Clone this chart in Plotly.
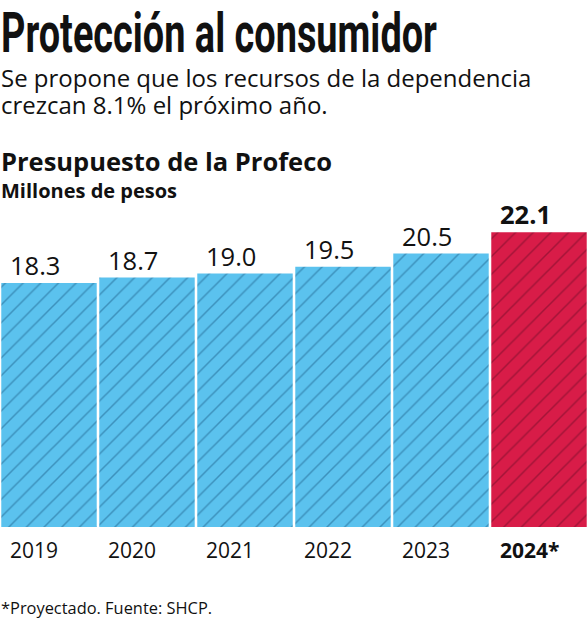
import plotly.graph_objects as go

years = ["2019", "2020", "2021", "2022", "2023", "2024*"]
values = [18.3, 18.7, 19.0, 19.5, 20.5, 22.1]
projected = [False, False, False, False, False, True]

BLUE = "#5bc2ee"
BLUE_LINE = "#1d6089"
RED = "#d81c48"
RED_LINE = "#6e0c27"

W, H = 588, 620
TOP, BOTTOM = 200, 527  # plot area pixel rows


def py(pix):
    return (BOTTOM - pix) / (BOTTOM - TOP)


fig = go.Figure()
for is_proj, col, line_col in [(False, BLUE, BLUE_LINE), (True, RED, RED_LINE)]:
    xs = [y for y, p in zip(years, projected) if p == is_proj]
    vs = [v for v, p in zip(values, projected) if p == is_proj]
    fig.add_trace(go.Bar(
        x=xs, y=vs,
        marker=dict(color=col, line=dict(width=0),
                    pattern=dict(shape="/", fgcolor=line_col, size=12.5,
                                 solidity=0.12, fillmode="overlay")),
        hoverinfo="skip",
    ))

BODY = "'Open Sans', 'Noto Sans', sans-serif"
ann = []
for i, (yr, v, p) in enumerate(zip(years, values, projected)):
    ann.append(dict(x=i, y=v, xref="x", yref="y", xanchor="left", yanchor="bottom",
                    xshift=-41, yshift=-1, showarrow=False,
                    text=f"<b>{v:.1f}</b>" if p else f"{v:.1f}",
                    font=dict(family=BODY, size=25.5, color="#111")))
    ann.append(dict(x=i, y=py(550), xref="x", yref="paper", xanchor="left", yanchor="middle",
                    xshift=-41, showarrow=False,
                    text=f"<b>{yr}</b>" if p else yr,
                    font=dict(family=BODY, size=21, color="#111")))

texts = [
    ("<b>Protección al consumidor</b>", 33, "Roboto, sans-serif", 56),
    ("Se propone que los recursos de la dependencia", 77, BODY, 24),
    ("crezcan 8.1% el próximo año.", 104, BODY, 24),
    ("<b>Presupuesto de la Profeco</b>", 161, BODY, 25.5),
    ("<b>Millones de pesos</b>", 191, BODY, 20),
    ("*Proyectado. Fuente: SHCP.", 607, BODY, 16.4),
]
for t, yp, fam, sz in texts:
    ann.append(dict(x=0, y=py(yp), xref="paper", yref="paper", xanchor="left", yanchor="middle",
                    xshift=-1, showarrow=False, text=t, font=dict(family=fam, size=sz, color="#111")))

fig.update_layout(
    width=W, height=H,
    margin=dict(l=0, r=0, t=TOP, b=H - BOTTOM, pad=0),
    paper_bgcolor="white", plot_bgcolor="white",
    bargap=0.026, barmode="overlay", showlegend=False,
    xaxis=dict(type="category", categoryorder="array", categoryarray=years,
               range=[-0.5, len(years) - 0.5], showticklabels=False,
               showgrid=False, zeroline=False, showline=False, ticks=""),
    yaxis=dict(range=[0, (BOTTOM - TOP) / 13.34], visible=False, fixedrange=True),
    annotations=ann,
)

# Remove the page margin and condense the headline horizontally
# (the reference uses a condensed display face).
post = """
document.body.style.margin = '0';
document.body.style.padding = '0';
var gd = document.getElementById('{plot_id}');
gd.querySelectorAll('.annotation-text').forEach(function(t){
  if (t.textContent.indexOf('Protecci') === 0) {
    var b = t.getBBox();
    var sx = 436 / b.width;
    var x0 = b.x;
    t.setAttribute('transform', 'translate(' + x0 + ',0) scale(' + sx + ',1) translate(' + (-x0) + ',0)');
  }
});
"""

fig.write_html("out.html", config={"displayModeBar": False}, post_script=post)
